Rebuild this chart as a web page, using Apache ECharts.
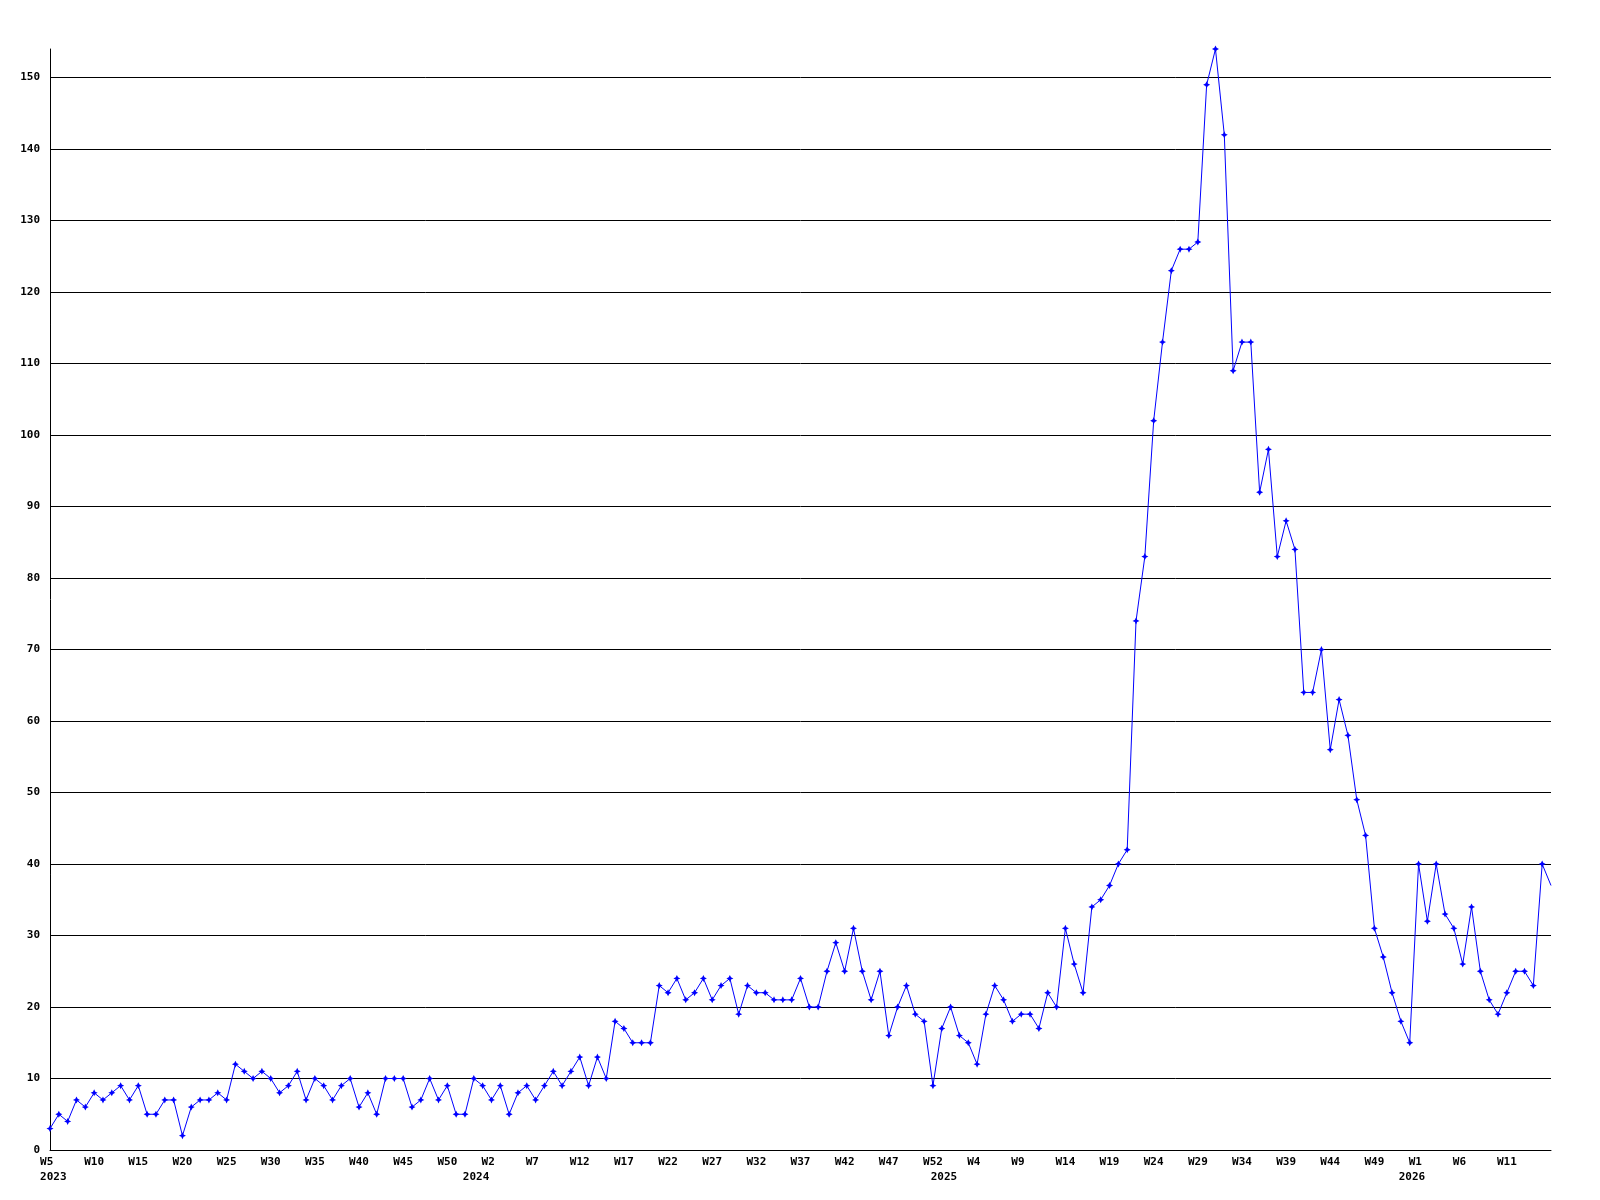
<!DOCTYPE html>
<html>
<head>
<meta charset="utf-8">
<title>Weekly count</title>
<script src="https://cdn.jsdelivr.net/npm/echarts@6/dist/echarts.min.js"></script>
<style>
  html, body { margin: 0; padding: 0; background: #fff; }
  #chart { width: 1600px; height: 1200px; }
</style>
</head>
<body>
<div id="chart"></div>
<script>
  // year, first week, last week shown on the axis
  var yearWeeks = [[2023, 5, 53], [2024, 1, 53], [2025, 1, 53], [2026, 1, 16]];

  var values = [
    3, 5, 4, 7, 6, 8, 7, 8, 9, 7,
    9, 5, 5, 7, 7, 2, 6, 7, 7, 8,
    7, 12, 11, 10, 11, 10, 8, 9, 11, 7,
    10, 9, 7, 9, 10, 6, 8, 5, 10, 10,
    10, 6, 7, 10, 7, 9, 5, 5, 10, 9,
    7, 9, 5, 8, 9, 7, 9, 11, 9, 11,
    13, 9, 13, 10, 18, 17, 15, 15, 15, 23,
    22, 24, 21, 22, 24, 21, 23, 24, 19, 23,
    22, 22, 21, 21, 21, 24, 20, 20, 25, 29,
    25, 31, 25, 21, 25, 16, 20, 23, 19, 18,
    9, 17, 20, 16, 15, 12, 19, 23, 21, 18,
    19, 19, 17, 22, 20, 31, 26, 22, 34, 35,
    37, 40, 42, 74, 83, 102, 113, 123, 126, 126,
    127, 149, 154, 142, 109, 113, 113, 92, 98, 83,
    88, 84, 64, 64, 70, 56, 63, 58, 49, 44,
    31, 27, 22, 18, 15, 40, 32, 40, 33, 31,
    26, 34, 25, 21, 19, 22, 25, 25, 23, 40,
    37
  ];

  var categories = [];
  var weekLabels = [];
  var yearLabels = [];
  yearWeeks.forEach(function (yw) {
    for (var w = yw[1]; w <= yw[2]; w++) {
      categories.push(yw[0] + '-W' + w);
      weekLabels.push('W' + w);
      yearLabels.push(w === 1 || categories.length === 1 ? String(yw[0]) : '');
    }
  });

  // the last point sits on the right edge and has no marker
  var seriesData = values.map(function (v, i) {
    return i === values.length - 1 ? { value: v, symbol: 'none' } : v;
  });

  var font = 'DejaVu Sans Mono';
  var chart = echarts.init(document.getElementById('chart'));
  chart.setOption({
    animation: false,
    backgroundColor: '#fff',
    grid: { left: 50, right: 49, top: 49, bottom: 50, containLabel: false },
    xAxis: [
      {
        type: 'category',
        data: categories,
        boundaryGap: false,
        axisLine: { lineStyle: { color: '#000', width: 1 } },
        axisTick: { show: false },
        axisLabel: {
          // every 5th week, but not the last (edge) point
          interval: function (idx) {
            return idx % 5 === 0 && idx < categories.length - 1;
          },
          margin: 7,
          color: '#000',
          fontFamily: font,
          fontWeight: 'bold',
          fontSize: 11,
          formatter: function (val, idx) {
            var s = weekLabels[idx];
            while (s.length < 3) s += ' ';
            return s;
          }
        },
        splitLine: { show: false }
      },
      {
        type: 'category',
        data: categories,
        position: 'bottom',
        boundaryGap: false,
        axisLine: { show: false },
        axisTick: { show: false },
        axisLabel: {
          interval: 0,
          margin: 22,
          color: '#000',
          fontFamily: font,
          fontWeight: 'bold',
          fontSize: 11,
          formatter: function (val, idx) {
            var s = yearLabels[idx];
            if (!s) return '';
            return idx === 0 ? ' ' + s : s + '  ';
          }
        },
        splitLine: { show: false }
      }
    ],
    yAxis: {
      type: 'value',
      min: 0,
      max: 154,
      interval: 10,
      axisLine: { show: true, lineStyle: { color: '#000', width: 1 } },
      axisTick: { show: false },
      axisLabel: {
        margin: 10,
        color: '#000',
        fontFamily: font,
        fontWeight: 'bold',
        fontSize: 11,
        showMaxLabel: false
      },
      splitLine: {
        show: true,
        showMaxLine: false,
        lineStyle: { color: '#000', width: 1 }
      }
    },
    series: [
      {
        type: 'line',
        data: seriesData,
        xAxisIndex: 0,
        symbol: 'path://M0,-3 L1,-1 L3,0 L1,1 L0,3 L-1,1 L-3,0 L-1,-1 Z',
        symbolSize: 7,
        showAllSymbol: true,
        itemStyle: { color: '#0000ff' },
        lineStyle: { color: '#0000ff', width: 1 }
      }
    ]
  });
</script>
</body>
</html>
